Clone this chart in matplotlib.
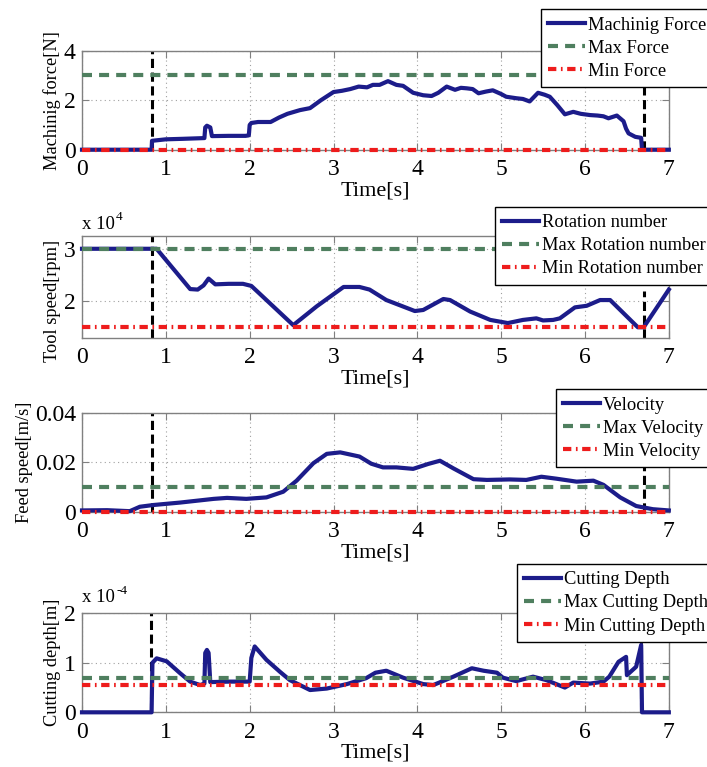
import matplotlib
matplotlib.use("Agg")
import matplotlib.pyplot as plt

plt.rcParams['font.family'] = ['Liberation Serif', 'DejaVu Serif']
plt.rcParams['mathtext.fontset'] = 'stix'

# ---------------- data ----------------
# Panel 1: machining force [N]
force_t = [0, 0.83, 0.835, 1.0, 1.2, 1.46, 1.47, 1.49, 1.53, 1.55, 1.75, 1.95, 1.99, 2.0, 2.02, 2.1,
           2.25, 2.35, 2.45, 2.6, 2.72, 2.85, 3.0, 3.1, 3.2, 3.3, 3.4, 3.47, 3.55, 3.65, 3.75, 3.83,
           3.95, 4.07, 4.17, 4.25, 4.35, 4.45, 4.52, 4.59, 4.66, 4.73, 4.82, 4.9, 5.0, 5.06, 5.18,
           5.26, 5.34, 5.44, 5.52, 5.58, 5.67, 5.76, 5.86, 5.95, 6.06, 6.15, 6.22, 6.28, 6.38, 6.46,
           6.49, 6.52, 6.6, 6.67, 6.68, 7.0]
force_v = [0, 0, 0.36, 0.42, 0.44, 0.47, 0.9, 0.97, 0.9, 0.55, 0.56, 0.56, 0.58, 1.0, 1.08, 1.12,
           1.12, 1.3, 1.45, 1.6, 1.68, 2.0, 2.33, 2.38, 2.45, 2.55, 2.52, 2.62, 2.62, 2.77, 2.62, 2.58,
           2.3, 2.2, 2.17, 2.3, 2.55, 2.42, 2.5, 2.48, 2.45, 2.28, 2.35, 2.4, 2.25, 2.14, 2.08,
           2.05, 1.95, 2.3, 2.22, 2.14, 1.8, 1.43, 1.53, 1.45, 1.4, 1.38, 1.35, 1.27, 1.38, 1.15,
           0.85, 0.66, 0.52, 0.48, 0, 0]
force_max = 3.0
force_min = 0.0

# Panel 2: tool speed [x 10^4 rpm]
rot_t = [0, 0.89, 1.29, 1.38, 1.45, 1.51, 1.59, 1.75, 1.92, 2.02, 2.52, 2.8, 3.12, 3.31, 3.43,
         3.55, 3.63, 3.97, 4.07, 4.31, 4.39, 4.63, 4.87, 5.08, 5.26, 5.42, 5.5, 5.62, 5.7, 5.88,
         6.02, 6.18, 6.3, 6.63, 6.7, 7.0]
rot_v = [3.0, 3.0, 2.23, 2.22, 2.3, 2.43, 2.32, 2.33, 2.33, 2.29, 1.54, 1.9, 2.27, 2.27, 2.22,
         2.1, 2.02, 1.81, 1.83, 2.04, 2.02, 1.8, 1.64, 1.58, 1.64, 1.67, 1.63, 1.64, 1.67, 1.88,
         1.91, 2.02, 2.02, 1.5, 1.5, 2.22]
rot_max = 3.0
rot_min = 1.5

# Panel 3: feed speed [m/s]
vel_t = [0, 0.3, 0.57, 0.69, 0.85, 1.17, 1.57, 1.73, 1.96, 2.2, 2.4, 2.56, 2.76, 2.92, 3.08, 3.31,
         3.45, 3.59, 3.75, 3.95, 4.13, 4.27, 4.43, 4.67, 4.83, 5.1, 5.3, 5.48, 5.66, 5.9, 6.1,
         6.22, 6.42, 6.61, 6.81, 7.0]
vel_v = [0.0005, 0.0006, 0.0002, 0.002, 0.0027, 0.0037, 0.0052, 0.0056, 0.0052, 0.0058, 0.0081,
         0.0126, 0.0197, 0.0235, 0.0241, 0.0224, 0.0195, 0.018, 0.018, 0.0174, 0.0194, 0.0207,
         0.0176, 0.0132, 0.0129, 0.0131, 0.0129, 0.0142, 0.0134, 0.0122, 0.0126, 0.0109, 0.0058,
         0.0023, 0.001, 0.0005]
vel_max = 0.01
vel_min = 0.0

# Panel 4: cutting depth [x 10^-4 m]
depth_t = [0, 0.83, 0.84, 0.89, 1.01, 1.17, 1.29, 1.41, 1.46, 1.47, 1.49, 1.51, 1.53, 1.76, 2.0,
           2.02, 2.06, 2.2, 2.36, 2.48, 2.72, 2.92, 3.16, 3.39, 3.5, 3.63, 3.83, 4.07, 4.19, 4.43,
           4.65, 4.79, 4.95, 5.02, 5.18, 5.38, 5.54, 5.76, 5.86, 6.06, 6.22, 6.29, 6.4, 6.49, 6.5,
           6.61, 6.67, 6.68, 7.0]
depth_v = [0, 0, 1.0, 1.09, 1.03, 0.79, 0.62, 0.55, 0.58, 1.2, 1.26, 1.2, 0.61, 0.62, 0.62,
           1.1, 1.33, 1.06, 0.82, 0.65, 0.45, 0.48, 0.57, 0.69, 0.8, 0.84, 0.7, 0.57, 0.55, 0.72,
           0.89, 0.84, 0.8, 0.7, 0.63, 0.72, 0.65, 0.5, 0.6, 0.58, 0.62, 0.72, 1.02, 1.12, 0.75,
           0.92, 1.36, 0, 0]
depth_max = 0.7
depth_min = 0.55

x_ticks = [0, 1, 2, 3, 4, 5, 6, 7]
t_start = 0.83
t_end = 6.7

# ---------------- style ----------------
BLUE = '#1c1c8a'
GREEN = '#4f7f5f'
RED = '#ee1c1c'
GRAY = '#808080'

fig = plt.figure(figsize=(7.07, 7.67), dpi=100)
L, W = 0.116, 0.830


def make_axes(bottom, height):
    ax = fig.add_axes([L, bottom, W, height])
    for s in ax.spines.values():
        s.set_color(GRAY)
        s.set_linewidth(1.0)
    ax.tick_params(direction='in', length=5, width=0.8, color=GRAY, top=True, right=True,
                   labelsize=17, labelcolor='black')
    ax.tick_params(axis='x', pad=7)
    ax.tick_params(axis='y', pad=4.5)
    ax.grid(True, linestyle=(0, (1, 3)), color='#a0a0a0', linewidth=0.8)
    ax.set_axisbelow(True)
    ax.set_xlim(0, 7)
    ax.set_xticks(x_ticks)
    ax.set_xlabel('Time[s]', fontsize=16, labelpad=0.5)
    return ax


def draw(ax, t, v, vmax, vmin, labels, legend_xy):
    ax.plot(t, v, color=BLUE, lw=3, zorder=3, clip_on=False, label=labels[0],
            solid_joinstyle='round')
    ax.axhline(vmax, color=GREEN, lw=3, ls=(0, (2.4, 1.7)), zorder=4, clip_on=False, label=labels[1])
    ax.axhline(vmin, color=RED, lw=3, ls=(0, (2.0, 1.1, 0.4, 1.1)), zorder=5, clip_on=False,
               label=labels[2])
    leg = ax.legend(loc='upper left', bbox_to_anchor=legend_xy, bbox_transform=fig.transFigure,
                    borderaxespad=0, fontsize=13.3, frameon=True, fancybox=False, framealpha=1,
                    edgecolor='black', handlelength=2.0, handletextpad=0.15, borderpad=0.4,
                    labelspacing=0.33)
    leg.get_frame().set_linewidth(1.0)
    leg.set_zorder(10)
    return leg


def vline(ax, x, y0, y1, z=2.5):
    ax.plot([x, x], [y0, y1], color='black', lw=2.2, ls=(0, (3, 1.5)), zorder=z, clip_on=False)


def exponent(ax, y_frac, power):
    ax.annotate('x 10', xy=(0.0, y_frac), xycoords='axes fraction', fontsize=13.5,
                ha='left', va='bottom')
    ax.annotate(power, xy=(0.0, y_frac), xycoords='axes fraction', xytext=(24.5, 7),
                textcoords='offset points', fontsize=9.5, ha='left', va='bottom')


# Panel 1
ax1 = make_axes(0.8048, 0.1291)
ax1.set_ylim(0, 4)
ax1.set_yticks([0, 2, 4])
ax1.set_ylabel('Machinig force[N]', fontsize=13.2)
ax1.yaxis.set_label_coords(-0.036, 0.5)
draw(ax1, force_t, force_v, force_max, force_min,
     ['Machinig Force', 'Max Force', 'Min Force'], (0.765, 0.988))
vline(ax1, t_start, 0, 4)
vline(ax1, t_end, 0, 4)

# Panel 2
ax2 = make_axes(0.5597, 0.1330)
ax2.set_ylim(1.3, 3.25)
ax2.set_yticks([2, 3])
ax2.set_ylabel('Tool speed[rpm]', fontsize=13.2)
ax2.yaxis.set_label_coords(-0.036, 0.36)
draw(ax2, rot_t, rot_v, rot_max, rot_min,
     ['Rotation number', 'Max Rotation number', 'Min Rotation number'], (0.700, 0.7305))
vline(ax2, t_start, 1.3, 3.25)
vline(ax2, t_end, 1.3, 2.2)
exponent(ax2, 1.03, '4')

# Panel 3
ax3 = make_axes(0.3329, 0.1283)
ax3.set_ylim(0, 0.04)
ax3.set_yticks([0, 0.02, 0.04])
ax3.set_yticklabels(['0', '0.02', '0.04'])
ax3.set_ylabel('Feed speed[m/s]', fontsize=13.2)
ax3.yaxis.set_label_coords(-0.083, 0.5)
draw(ax3, vel_t, vel_v, vel_max, vel_min,
     ['Velocity', 'Max Velocity', 'Min Velocity'], (0.786, 0.4924))
vline(ax3, t_start, 0, 0.04)
vline(ax3, t_end, 0, 0.04)

# Panel 4
ax4 = make_axes(0.0713, 0.1291)
ax4.set_ylim(0, 2)
ax4.set_yticks([0, 1, 2])
ax4.set_ylabel('Cutting depth[m]', fontsize=13.2)
ax4.yaxis.set_label_coords(-0.036, 0.5)
draw(ax4, depth_t, depth_v, depth_max, depth_min,
     ['Cutting Depth', 'Max Cutting Depth', 'Min Cutting Depth'], (0.731, 0.2647))
vline(ax4, t_start - 0.01, 0, 2)
vline(ax4, 6.67, 0, 1.42)
exponent(ax4, 1.07, '-4')

fig.savefig('out.png', dpi=100)
